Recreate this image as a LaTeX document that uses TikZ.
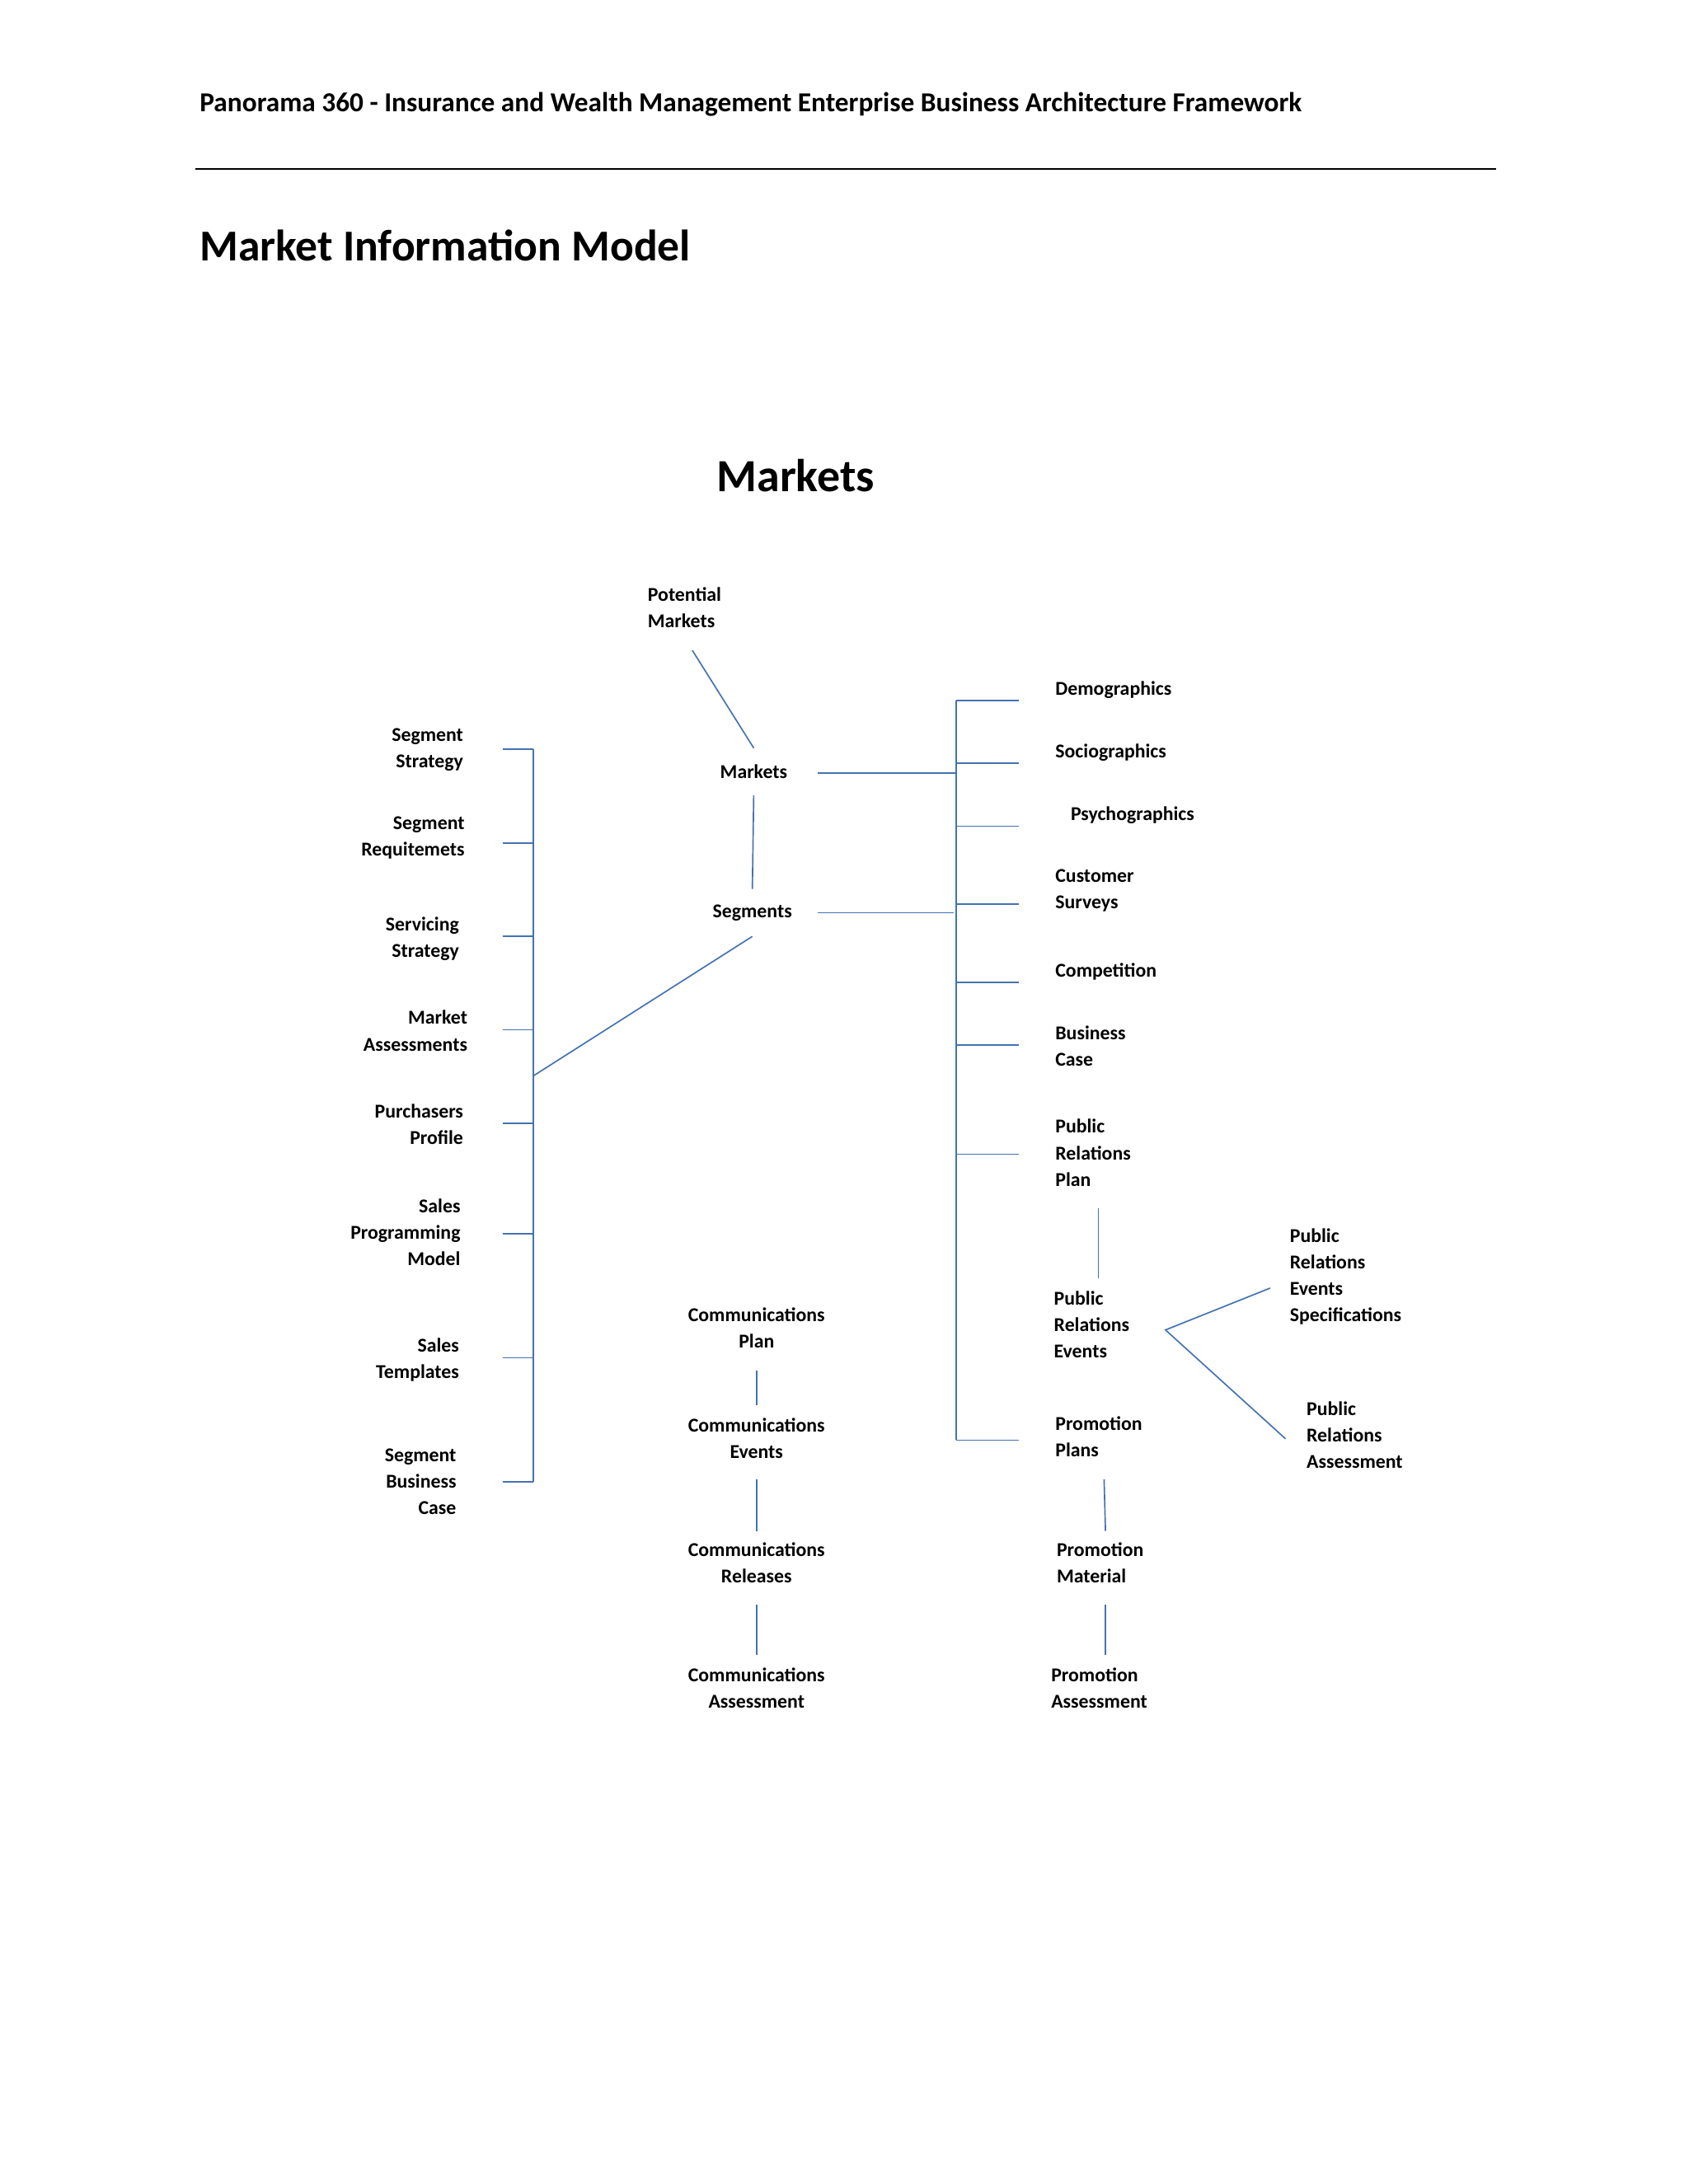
\documentclass[tikz,border=0pt]{standalone}
\usepackage{fontspec}
\setmainfont{Carlito}
\begin{document}
\begin{tikzpicture}[x=0.05cm,y=-0.05cm,
  lbl/.style={inner sep=0pt,font=\bfseries\fontsize{20}{27}\selectfont},
  ll/.style={lbl,anchor=north west,align=left},
  lr/.style={lbl,anchor=north east,align=right},
  lc/.style={lbl,anchor=north,align=center},
  ln/.style={draw=blue!50!black!70!cyan,line width=1.5pt}]
\useasboundingbox (0,0) rectangle (1210,1565);
\tikzset{ln/.style={draw={rgb,255:red,68;green,114;blue,176},line width=1.4pt}}
\node[lbl,anchor=west,font=\bfseries\fontsize{28}{32}\selectfont] (hdr) at (143,75) {Panorama 360 - Insurance and Wealth Management Enterprise Business Architecture Framework};
\coordinate (r1) at (140,121); \coordinate (r2) at (1072,121);
\draw[line width=1.2pt] (r1) -- (r2);
\node[lbl,anchor=west,font=\bfseries\fontsize{45}{50}\selectfont] (title) at (143,176) {Market Information Model};
\node[lbl,font=\bfseries\fontsize{47}{50}\selectfont] (mk) at (570,341) {Markets};
% center
\node[ll] (pot) at (464,421) {Potential\\Markets};
\node[lbl] (markets) at (540,553) {Markets};
\node[lbl] (segments) at (539,654) {Segments};
\coordinate (p1) at (496,466); \coordinate (p2) at (540,536);
\draw[ln] (p1)--(p2);
\coordinate (m1) at (540,570); \coordinate (s1) at (539,637);
\draw[ln] (m1)--(s1);
% right bus
\coordinate (rt) at (685,502); \coordinate (rb) at (685,1032);
\draw[ln] (rt)--(rb);
\coordinate (ma) at (586,554); \coordinate (mb) at (685,554);
\draw[ln] (ma)--(mb);
\coordinate (sa) at (586,654); \coordinate (sb) at (683,654);
\draw[ln] (sa)--(sb);
\foreach \y/\n in {502/a,547/b,592/c,648/d,704/e,749/f,827/g,1032/h}{
  \coordinate (t\n1) at (685,\y); \coordinate (t\n2) at (730,\y);
  \draw[ln] (t\n1)--(t\n2);}
\node[ll] (demo) at (756,488) {Demographics};
\node[ll] (socio) at (756,533) {Sociographics};
\node[ll] (psy) at (767,578) {Psychographics};
\node[ll] (cust) at (756,623) {Customer\\Surveys};
\node[ll] (comp) at (756,690) {Competition};
\node[ll] (bc) at (756,735) {Business\\Case};
\node[ll] (prp) at (756,802) {Public\\Relations\\Plan};
\node[ll] (pre) at (755,925) {Public\\Relations\\Events};
\node[ll] (pres) at (924,880) {Public\\Relations\\Events\\Specifications};
\node[ll] (pra) at (936,1004) {Public\\Relations\\Assessment};
\node[ll] (pp) at (756,1015) {Promotion\\Plans};
\node[ll] (pm) at (757,1105) {Promotion\\Material};
\node[ll] (pa) at (753,1195) {Promotion\\Assessment};
\coordinate (q1) at (787,866); \coordinate (q2) at (787,916); \draw[ln] (q1)--(q2);
\coordinate (e0) at (835,953); \coordinate (e1) at (910,923); \coordinate (e2) at (921,1031);
\draw[ln] (e1)--(e0)--(e2);
\coordinate (q3) at (791,1060); \coordinate (q4) at (792,1097); \draw[ln] (q3)--(q4);
\coordinate (q5) at (792,1150); \coordinate (q6) at (792,1186); \draw[ln] (q5)--(q6);
% communications
\node[lc] (cp) at (542,937) {Communications\\Plan};
\node[lc] (ce) at (542,1016) {Communications\\Events};
\node[lc] (cr) at (542,1105) {Communications\\Releases};
\node[lc] (ca) at (542,1195) {Communications\\Assessment};
\coordinate (c1) at (542,982); \coordinate (c2) at (542,1007); \draw[ln] (c1)--(c2);
\coordinate (c3) at (542,1060); \coordinate (c4) at (542,1097); \draw[ln] (c3)--(c4);
\coordinate (c5) at (542,1150); \coordinate (c6) at (542,1186); \draw[ln] (c5)--(c6);
% left bus
\coordinate (lt) at (382,537); \coordinate (lb) at (382,1062);
\draw[ln] (lt)--(lb);
\foreach \y/\n in {537/a,604/b,671/c,738/d,805/e,884/f,973/g,1062/h}{
  \coordinate (u\n1) at (360,\y); \coordinate (u\n2) at (382,\y);
  \draw[ln] (u\n1)--(u\n2);}
\coordinate (g1) at (539,671); \coordinate (g2) at (382,771); \draw[ln] (g1)--(g2);
\node[lr] (ss) at (332,522) {Segment\\Strategy};
\node[lr] (sr) at (333,585) {Segment\\Requitemets};
\node[lr] (sv) at (329,657) {Servicing\\Strategy};
\node[lr] (ma2) at (335,724) {Market\\Assessments};
\node[lr] (pu) at (332,791) {Purchasers\\Profile};
\node[lr] (sp) at (330,859) {Sales\\Programming\\Model};
\node[lr] (st) at (329,959) {Sales\\Templates};
\node[lr] (sb2) at (327,1038) {Segment\\Business\\Case};
\end{tikzpicture}
\end{document}
